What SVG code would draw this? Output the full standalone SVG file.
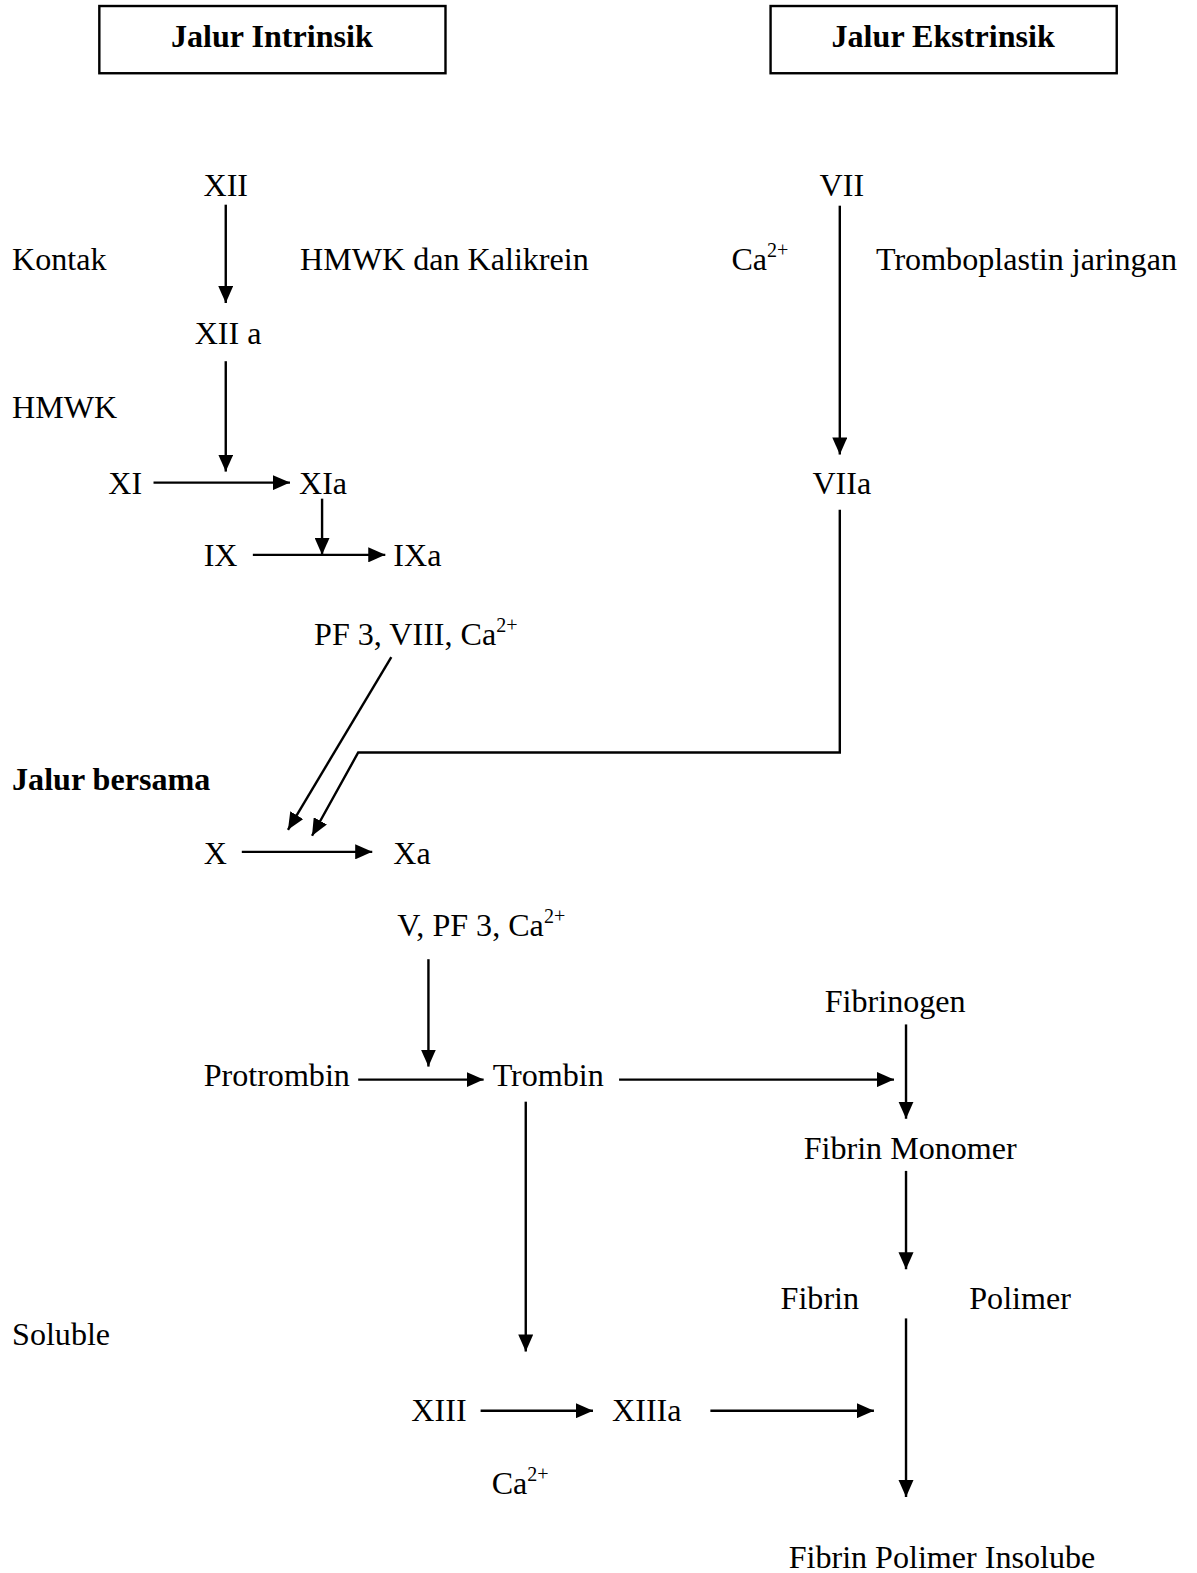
<svg xmlns="http://www.w3.org/2000/svg" width="1197" height="1573" viewBox="0 0 1197 1573">
<style>
text{font-family:"Liberation Serif","Times New Roman",serif;font-size:32px;fill:#000}
.b{font-weight:bold}
.sup{font-size:20px}
.c{stroke:#000;stroke-width:2.4;fill:none}
.box{fill:#fff;stroke:#000;stroke-width:2.4}
</style>
<defs>
<marker id="ah" markerUnits="userSpaceOnUse" markerWidth="19" markerHeight="15" refX="17" refY="7.5" orient="auto">
<path d="M0,0 L17,7.5 L0,15 z" fill="#000"/>
</marker>
</defs>
<rect width="1197" height="1573" fill="#fff"/>
<g transform="scale(1.00335)">
<g id="box-intrinsik"><rect class="box" x="99" y="6" width="345" height="67"/><text class="b" x="271" y="47" text-anchor="middle">Jalur Intrinsik</text></g>
<g id="box-ekstrinsik"><rect class="box" x="768" y="6" width="345" height="67"/><text class="b" x="940" y="47" text-anchor="middle">Jalur Ekstrinsik</text></g>
<g id="n-xii"><text x="225" y="195" text-anchor="middle">XII</text></g>
<g id="l-kontak"><text x="12" y="269">Kontak</text></g>
<g id="l-hmwk-kal"><text x="299" y="269">HMWK dan Kalikrein</text></g>
<g id="n-xiia"><text x="194" y="343">XII a</text></g>
<g id="l-hmwk"><text x="12" y="417">HMWK</text></g>
<g id="n-xi"><text x="108" y="492">XI</text></g>
<g id="n-xia"><text x="298" y="492">XIa</text></g>
<g id="n-ix"><text x="203" y="564">IX</text></g>
<g id="n-ixa"><text x="392" y="564">IXa</text></g>
<g id="l-pf3"><text x="313" y="643">PF 3, VIII, Ca<tspan class="sup" dy="-13">2+</tspan></text></g>
<g id="l-bersama"><text class="b" x="12" y="787">Jalur bersama</text></g>
<g id="n-x"><text x="203" y="861">X</text></g>
<g id="n-xa"><text x="392" y="861">Xa</text></g>
<g id="l-v"><text x="396" y="933">V, PF 3, Ca<tspan class="sup" dy="-13">2+</tspan></text></g>
<g id="n-fibrinogen"><text x="822" y="1009">Fibrinogen</text></g>
<g id="n-protrombin"><text x="203" y="1082">Protrombin</text></g>
<g id="n-trombin"><text x="491" y="1082">Trombin</text></g>
<g id="n-monomer"><text x="801" y="1155">Fibrin Monomer</text></g>
<g id="n-fibrin-polimer"><text x="778" y="1305">Fibrin</text><text x="966" y="1305">Polimer</text></g>
<g id="l-soluble"><text x="12" y="1341">Soluble</text></g>
<g id="n-xiii"><text x="410" y="1416">XIII</text></g>
<g id="n-xiiia"><text x="610" y="1416">XIIIa</text></g>
<g id="l-ca-bottom"><text x="490" y="1489">Ca<tspan class="sup" dy="-13">2+</tspan></text></g>
<g id="n-insolube"><text x="786" y="1563">Fibrin Polimer Insolube</text></g>
<g id="n-vii"><text x="839" y="195" text-anchor="middle">VII</text></g>
<g id="l-ca-top"><text x="729" y="269">Ca<tspan class="sup" dy="-13">2+</tspan></text></g>
<g id="l-trombo"><text x="873" y="269">Tromboplastin jaringan</text></g>
<g id="n-viia"><text x="839" y="492" text-anchor="middle">VIIa</text></g>
<g id="connectors">
<line class="c" x1="225" y1="204" x2="225" y2="302" marker-end="url(#ah)"/>
<line class="c" x1="225" y1="360" x2="225" y2="470" marker-end="url(#ah)"/>
<line class="c" x1="153" y1="481" x2="289" y2="481" marker-end="url(#ah)"/>
<line class="c" x1="321" y1="497" x2="321" y2="553" marker-end="url(#ah)"/>
<line class="c" x1="252" y1="553" x2="384" y2="553" marker-end="url(#ah)"/>
<line class="c" x1="390" y1="655" x2="287" y2="827" marker-end="url(#ah)"/>
<polyline class="c" points="837,508 837,750 357,750 311,833" marker-end="url(#ah)"/>
<line class="c" x1="837" y1="205" x2="837" y2="453" marker-end="url(#ah)"/>
<line class="c" x1="241" y1="849" x2="371" y2="849" marker-end="url(#ah)"/>
<line class="c" x1="427" y1="956" x2="427" y2="1063" marker-end="url(#ah)"/>
<line class="c" x1="357" y1="1076" x2="482" y2="1076" marker-end="url(#ah)"/>
<line class="c" x1="617" y1="1076" x2="891" y2="1076" marker-end="url(#ah)"/>
<line class="c" x1="903" y1="1021" x2="903" y2="1115" marker-end="url(#ah)"/>
<line class="c" x1="903" y1="1167" x2="903" y2="1265" marker-end="url(#ah)"/>
<line class="c" x1="524" y1="1098" x2="524" y2="1347" marker-end="url(#ah)"/>
<line class="c" x1="479" y1="1406" x2="591" y2="1406" marker-end="url(#ah)"/>
<line class="c" x1="708" y1="1406" x2="871" y2="1406" marker-end="url(#ah)"/>
<line class="c" x1="903" y1="1314" x2="903" y2="1492" marker-end="url(#ah)"/>
</g>
</g>
</svg>
